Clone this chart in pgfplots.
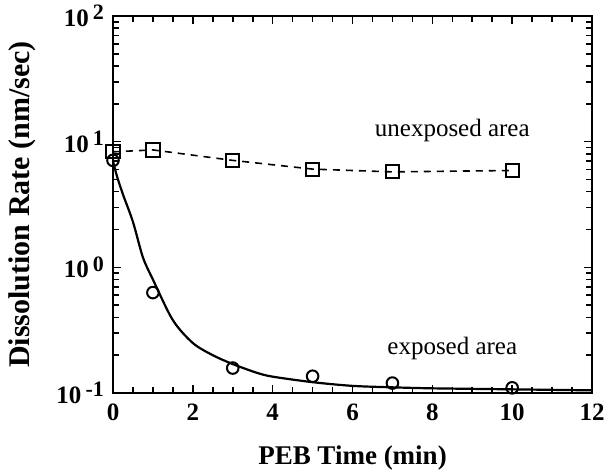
\documentclass[border=0pt]{standalone}
\usepackage{fontspec}
\setmainfont{Liberation Serif}
\usepackage{pgfplots}
\pgfplotsset{compat=1.18}
\newcommand{\tl}[2]{\textbf{#1}\,\raisebox{0.6ex}{\fontsize{11}{13}\selectfont\textbf{#2}}}
\begin{document}
\begin{tikzpicture}
\begin{axis}[
  scale only axis, width=239.5pt, height=188.5pt,
  xmin=0, xmax=12, ymin=0.1, ymax=100, ymode=log,
  xtick={0,2,4,6,8,10,12}, minor x tick num=3,
  xticklabels={\textbf{0},\textbf{2},\textbf{4},\textbf{6},\textbf{8},\textbf{10},\textbf{12}},
  ytick={0.1,1,10,100},
  yticklabels={\tl{10}{-1},\tl{10}{0},\tl{10}{1},\tl{10}{2}},
  tick label style={font=\fontsize{12.5}{15}\selectfont},
  xticklabel style={yshift=-2pt},
  yticklabel style={xshift=-1pt},
  tick align=inside,
  major tick length=4pt, minor tick length=3pt,
  axis line style={line width=1pt},
  every tick/.style={line width=0.8pt, black},
  xlabel={PEB Time (min)},
  ylabel={Dissolution Rate (nm/sec)},
  xlabel style={font=\fontsize{13.5}{16}\selectfont\bfseries, at={(axis description cs:0.5,-0.172)}, anchor=center},
  ylabel style={font=\fontsize{15}{18}\selectfont\bfseries, at={(axis description cs:-0.19,0.5)}, anchor=center},
  clip=false,
]
\addplot[black, line width=0.8pt, dash pattern=on 3.5pt off 3pt,
  mark=square, mark size=3.3pt, mark options={solid, line width=1pt, fill=white}]
  coordinates {(0,8.3) (1,8.6) (3,7.1) (5,6.05) (7,5.75) (10,5.9)};
\addplot[black, line width=1.1pt, smooth]
  coordinates {(0,7) (0.1,5.3) (0.25,3.8) (0.5,2.3) (0.75,1.2) (1,0.8) (1.5,0.38)
    (2,0.25) (2.5,0.2) (3,0.17) (3.6,0.145) (4,0.135) (5,0.122) (6,0.114)
    (7,0.111) (8,0.109) (10,0.107) (12,0.105)};
\addplot[only marks, black, mark=o, mark size=2.9pt, mark options={line width=1pt}]
  coordinates {(0,7.1) (1,0.63) (3,0.158) (5,0.136) (7,0.12) (10,0.11)};
\node[font=\fontsize{12.5}{15}\selectfont] at (axis cs:8.5,12.3) {unexposed area};
\node[font=\fontsize{12.5}{15}\selectfont] at (axis cs:8.5,0.228) {exposed area};
\end{axis}
\pgfresetboundingbox
\path ([shift={(-56.5pt,-41pt)}]current axis.south west) rectangle ([shift={(7.5pt,8pt)}]current axis.north east);
\end{tikzpicture}
\end{document}
